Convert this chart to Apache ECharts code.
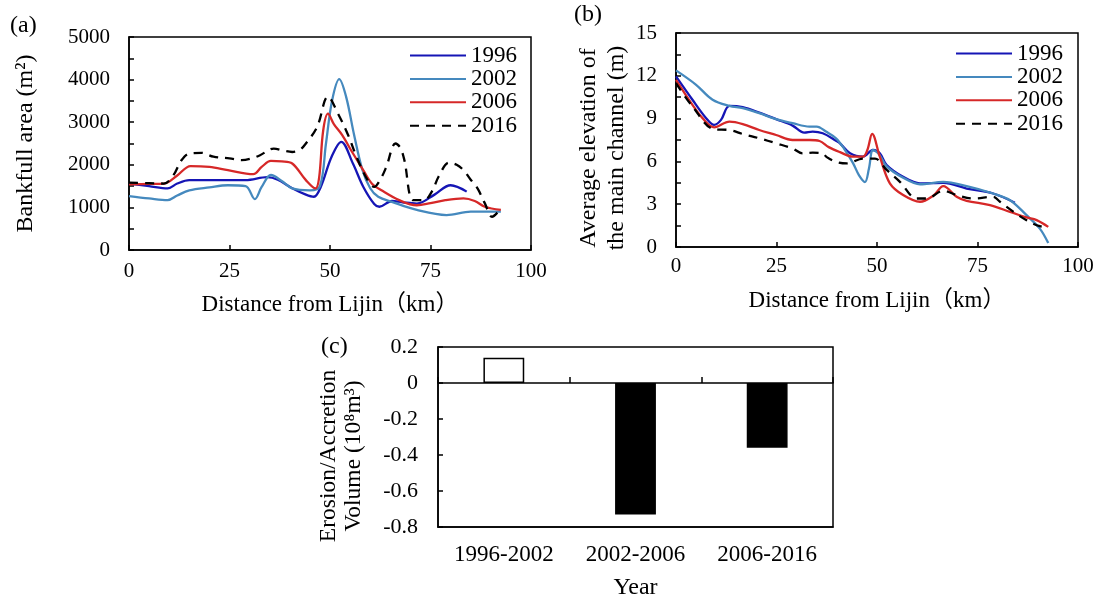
<!DOCTYPE html>
<html><head><meta charset="utf-8">
<script src="https://cdn.jsdelivr.net/npm/echarts@6/dist/echarts.min.js"></script>
<style>html,body{margin:0;padding:0;background:#fff}#c{width:1103px;height:601px}</style>
</head><body><div id="c"></div>
<script>
// ---------- Panel (a): Bankfull area (m2) ----------
const kmA1996 = [0, 5, 9.6, 12, 15, 22, 29, 34.4, 37, 40.6, 44, 46, 47.7, 50.4, 52.8, 55.7, 58.3, 61, 62.3, 65.4, 68, 71.6, 76, 80, 84];
const areaA1996 = [1560, 1500, 1445, 1560, 1640, 1640, 1640, 1710, 1650, 1450, 1300, 1250, 1480, 2190, 2540, 2030, 1480, 1080, 1015, 1150, 1120, 1090, 1300, 1520, 1370];
const kmA2002 = [0, 5, 9.6, 12, 15, 20, 24.6, 29, 31.3, 33, 35.3, 38, 40.6, 45, 47.5, 49, 50.5, 52.3, 54, 56, 58, 60, 62, 65.4, 71.6, 79, 85, 92.5];
const areaA2002 = [1265, 1210, 1170, 1280, 1400, 1470, 1520, 1500, 1195, 1480, 1760, 1620, 1445, 1400, 1500, 2500, 3500, 4010, 3600, 2700, 1900, 1450, 1250, 1130, 940, 820, 900, 900];
const kmA2006 = [0, 5, 8.7, 12, 15.3, 20, 24.6, 30.9, 33, 35.3, 38, 40.6, 44, 46.4, 47.3, 48.3, 49.5, 51, 53, 55.5, 58.3, 60.5, 62.8, 67.2, 71.6, 75, 78.7, 83.2, 86, 88.5, 92.5];
const areaA2006 = [1540, 1550, 1560, 1750, 1970, 1950, 1875, 1780, 1950, 2090, 2080, 2030, 1640, 1445, 1700, 2800, 3200, 2950, 2700, 2300, 1870, 1550, 1400, 1170, 1050, 1100, 1170, 1210, 1150, 1015, 940];
const kmA2016 = [0, 5, 8.7, 11, 13, 15, 18, 21, 25, 28, 30.5, 32.6, 36, 38.5, 40.6, 42.5, 44, 46.8, 49.5, 52, 54.5, 56.6, 59, 61, 62.5, 64, 66.3, 67.5, 68.5, 70.7, 73.4, 75.5, 77, 79.6, 81.5, 83.2, 85, 86.7, 88.5, 90.3, 92.5];
const areaA2016 = [1580, 1570, 1560, 1750, 2100, 2265, 2280, 2190, 2150, 2110, 2150, 2225, 2380, 2330, 2300, 2350, 2500, 2890, 3600, 3200, 2700, 2190, 1700, 1480, 1650, 1950, 2500, 2400, 2110, 1170, 1170, 1400, 1720, 2050, 2000, 1875, 1650, 1445, 1100, 780, 975];

// ---------- Panel (b): Average elevation of the main channel (m) ----------
const kmB1996 = [0, 4.1, 7.5, 9.5, 11.2, 13.3, 16.6, 20.7, 24.9, 29, 31.9, 34, 36.5, 39.8, 40.8, 43.3, 46.5, 49, 50.7, 52.4, 56.5, 60.7, 66.5, 72.3, 78.9, 84.3];
const elevB1996 = [11.96, 10.32, 9.03, 8.56, 8.91, 9.89, 9.8, 9.42, 8.96, 8.51, 8.02, 8.09, 7.97, 7.45, 7.27, 6.57, 6.33, 6.8, 6.57, 5.75, 4.92, 4.46, 4.5, 4.1, 3.75, 3.1];
const kmB2002 = [0, 5, 9.1, 13.3, 16.6, 20.7, 24.9, 29, 33.2, 35, 37.3, 39.8, 41.8, 44, 45.5, 47, 48, 49, 50.5, 52.4, 56.5, 60.7, 66.5, 72.3, 78.9, 83.1, 87.2, 90.5, 92.6];
const elevB2002 = [12.38, 11.37, 10.32, 9.89, 9.73, 9.38, 8.96, 8.68, 8.44, 8.44, 8.09, 7.62, 6.9, 5.9, 5.04, 4.55, 5.5, 6.8, 6.5, 5.65, 4.85, 4.4, 4.57, 4.27, 3.75, 3.28, 2.23, 1.29, 0.28];
const kmB2006 = [0, 4.1, 6.6, 9.5, 13.3, 16.6, 20.7, 24.9, 29, 33.2, 35.7, 38, 40.8, 44, 46.5, 47.6, 48.8, 50.7, 53.2, 56.5, 60.7, 64, 66.5, 69.8, 72.3, 78.1, 83.1, 87.2, 89.7, 92.6];
const elevB2006 = [11.72, 9.96, 9.03, 8.39, 8.79, 8.62, 8.2, 7.85, 7.5, 7.5, 7.43, 7.0, 6.65, 6.33, 6.33, 6.8, 7.93, 6.33, 4.46, 3.64, 3.17, 3.6, 4.27, 3.52, 3.24, 2.93, 2.46, 2.07, 1.88, 1.41];
const kmB2016 = [0, 4.1, 9.5, 13.3, 16.6, 20.7, 24.9, 29, 31.5, 34, 36.5, 37.5, 39.8, 42.5, 46.5, 49.5, 52.4, 55.7, 59.9, 62.4, 66.5, 69.8, 74, 78.9, 80.6, 84, 87.2, 90.5, 92.6];
const elevB2016 = [11.49, 9.85, 8.25, 8.2, 7.92, 7.62, 7.27, 6.91, 6.56, 6.61, 6.56, 6.3, 5.97, 5.86, 6.2, 6.2, 5.4, 4.57, 3.4, 3.4, 3.94, 3.64, 3.4, 3.52, 3.17, 2.46, 1.88, 1.46, 1.41];

// ---------- Panel (c): Erosion/Accretion volume ----------
const periods = ['1996-2002', '2002-2006', '2006-2016'];
const volumes = [0.14, -0.73, -0.36];

const years = ['1996', '2002', '2006', '2016'];
const xTicks = [0, 25, 50, 75, 100];

const FONT = "'Liberation Serif', 'Noto Sans CJK SC', serif";
const colors = { '1996': '#1515B5', '2002': '#4589BE', '2006': '#D62828', '2016': '#000000' };
const pairs = (xs, ys) => xs.map((x, i) => [x, ys[i]]);

const lineA = { '1996': pairs(kmA1996, areaA1996), '2002': pairs(kmA2002, areaA2002), '2006': pairs(kmA2006, areaA2006), '2016': pairs(kmA2016, areaA2016) };
const lineB = { '1996': pairs(kmB1996, elevB1996), '2002': pairs(kmB2002, elevB2002), '2006': pairs(kmB2006, elevB2006), '2016': pairs(kmB2016, elevB2016) };

const axisLineS = { show: true, onZero: false, lineStyle: { color: '#000', width: 1.5 } };
const tickS = { show: true, inside: true, length: 5, lineStyle: { color: '#000', width: 1.5 } };
const minorS = { show: true, splitNumber: 2, length: 5, lineStyle: { color: '#000', width: 1.5 } };
const labelS = (margin, size) => ({ color: '#000', fontFamily: FONT, fontSize: size || 21, margin: margin, formatter: v => String(v) });
const nameS = (size, extra) => Object.assign({ color: '#000', fontFamily: FONT, fontSize: size }, extra || {});

function xDist(grid, margin, gap) {
  return {
    type: 'value', gridIndex: grid, min: xTicks[0], max: xTicks[xTicks.length - 1], interval: 25,
    axisLine: axisLineS, axisTick: tickS, splitLine: { show: false },
    axisLabel: labelS(margin),
    name: 'Distance from Lijin（km）', nameLocation: 'middle', nameGap: gap, nameTextStyle: nameS(23)
  };
}

const series = [];
years.forEach(y => {
  const style = { color: colors[y], width: 2.3, type: y === '2016' ? [9, 7] : 'solid' };
  series.push({ name: y, type: 'line', xAxisIndex: 0, yAxisIndex: 0, data: lineA[y], symbol: 'none', smooth: 0.35, lineStyle: style, itemStyle: { color: colors[y] } });
  series.push({ name: y, type: 'line', xAxisIndex: 1, yAxisIndex: 1, data: lineB[y], symbol: 'none', smooth: 0.35, lineStyle: style, itemStyle: { color: colors[y] } });
});
series.push({
  type: 'bar', xAxisIndex: 2, yAxisIndex: 2, barWidth: '31%',
  data: volumes.map(v => ({ value: v, itemStyle: { color: v >= 0 ? '#ffffff' : '#000000', borderColor: '#000', borderWidth: 1.5 } }))
});

const legendBase = {
  orient: 'vertical', itemWidth: 56, itemHeight: 12, itemGap: 0.4, selectedMode: false,
  itemStyle: { opacity: 0 },
  textStyle: { color: '#000', fontFamily: FONT, fontSize: 23, lineHeight: 23 }, data: years
};

const option = {
  animation: false,
  backgroundColor: '#fff',
  grid: [
    { left: 129, top: 37, width: 402, height: 213, show: true, borderColor: '#000', borderWidth: 1.5, backgroundColor: 'transparent' },
    { left: 676, top: 33, width: 402, height: 214, show: true, borderColor: '#000', borderWidth: 1.5, backgroundColor: 'transparent' },
    { left: 438, top: 347, width: 395, height: 180, show: true, borderColor: '#000', borderWidth: 1.5, backgroundColor: 'transparent' }
  ],
  legend: [
    Object.assign({ left: 404, top: 39 }, legendBase),
    Object.assign({ left: 950, top: 37 }, legendBase)
  ],
  xAxis: [
    xDist(0, 11, 43),
    xDist(1, 9, 42),
    {
      type: 'category', gridIndex: 2, data: periods, position: 'bottom',
      axisLine: axisLineS, axisTick: { show: false }, splitLine: { show: false },
      axisLabel: labelS(16, 23),
      name: 'Year', nameLocation: 'middle', nameGap: 49, nameTextStyle: nameS(24)
    },
    {
      type: 'category', gridIndex: 2, data: periods, position: 'top',
      axisLine: { show: true, onZero: true, lineStyle: { color: '#000', width: 1.5 } },
      axisTick: { show: true, inside: false, length: 6, lineStyle: { color: '#000', width: 1.5 } },
      axisLabel: { show: false }, splitLine: { show: false }
    }
  ],
  yAxis: [
    {
      type: 'value', gridIndex: 0, min: 0, max: 5000, interval: 1000,
      axisLine: axisLineS, axisTick: tickS, minorTick: minorS, splitLine: { show: false }, minorSplitLine: { show: false },
      axisLabel: labelS(19),
      name: 'Bankfull area (m²)', nameLocation: 'middle', nameGap: 91, nameTextStyle: nameS(24)
    },
    {
      type: 'value', gridIndex: 1, min: 0, max: 15, interval: 3,
      axisLine: axisLineS, axisTick: tickS, minorTick: minorS, splitLine: { show: false }, minorSplitLine: { show: false },
      axisLabel: labelS(19),
      name: 'Average elevation of\nthe main channel (m)', nameLocation: 'middle', nameGap: 45,
      nameTextStyle: nameS(24, { lineHeight: 28, padding: [0, 16, 0, 0] })
    },
    {
      type: 'value', gridIndex: 2, min: -0.8, max: 0.2, interval: 0.2,
      axisLine: axisLineS, axisTick: tickS, splitLine: { show: false },
      axisLabel: labelS(20, 22),
      name: 'Erosion/Accretion\nVolume (10⁸m³)', nameLocation: 'middle', nameGap: 72,
      nameTextStyle: nameS(23.5, { lineHeight: 25, padding: [0, 38, 0, 0] })
    }
  ],
  graphic: [
    { type: 'text', left: 10, top: 14, style: { text: '(a)', fontFamily: FONT, fontSize: 24, fill: '#000' } },
    { type: 'text', left: 574, top: 3, style: { text: '(b)', fontFamily: FONT, fontSize: 24, fill: '#000' } },
    { type: 'text', left: 321, top: 335, style: { text: '(c)', fontFamily: FONT, fontSize: 24, fill: '#000' } }
  ],
  series: series
};

const chart = echarts.init(document.getElementById('c'), null, { renderer: 'canvas' });
chart.setOption(option);
</script>
</body></html>
